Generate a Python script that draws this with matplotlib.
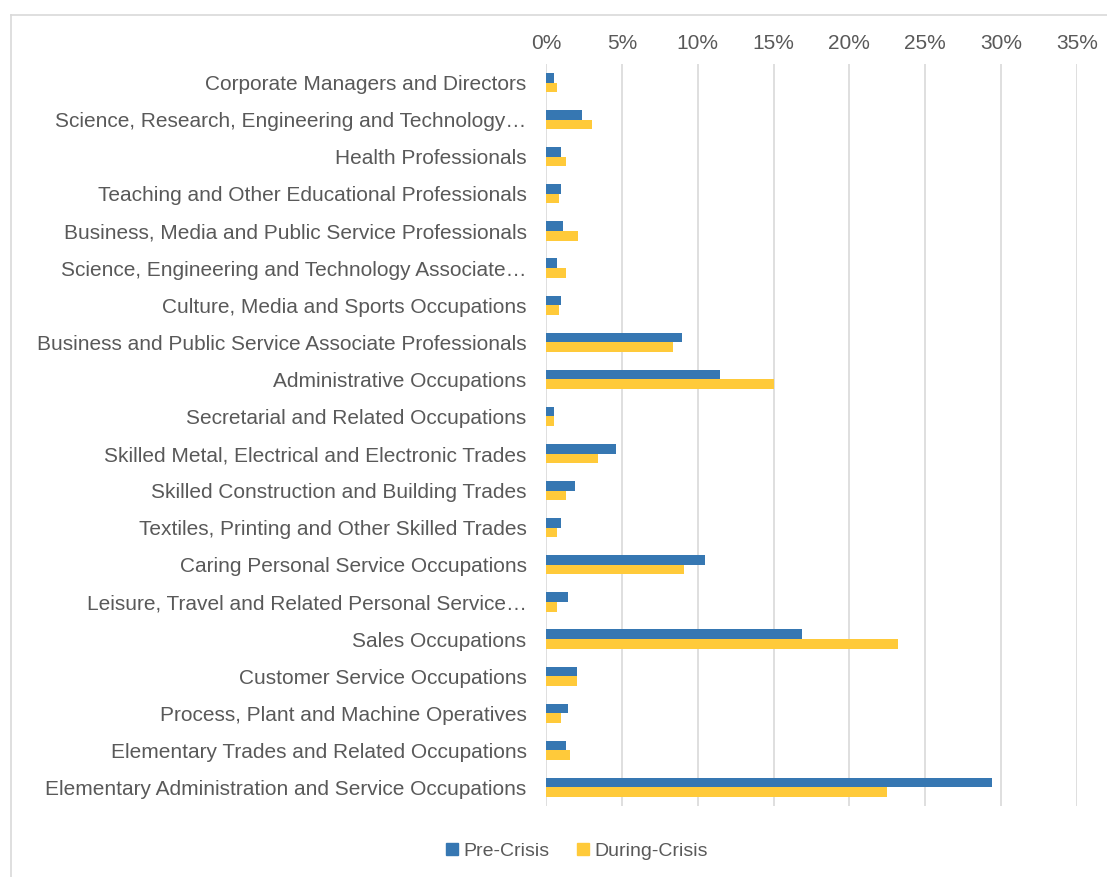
import matplotlib.pyplot as plt
import numpy as np
from matplotlib.lines import Line2D
from matplotlib.ticker import PercentFormatter

# occupation groups, top to bottom
categories = [
    "Corporate Managers and Directors",
    "Science, Research, Engineering and Technology\u2026",
    "Health Professionals",
    "Teaching and Other Educational Professionals",
    "Business, Media and Public Service Professionals",
    "Science, Engineering and Technology Associate\u2026",
    "Culture, Media and Sports Occupations",
    "Business and Public Service Associate Professionals",
    "Administrative Occupations",
    "Secretarial and Related Occupations",
    "Skilled Metal, Electrical and Electronic Trades",
    "Skilled Construction and Building Trades",
    "Textiles, Printing and Other Skilled Trades",
    "Caring Personal Service Occupations",
    "Leisure, Travel and Related Personal Service\u2026",
    "Sales Occupations",
    "Customer Service Occupations",
    "Process, Plant and Machine Operatives",
    "Elementary Trades and Related Occupations",
    "Elementary Administration and Service Occupations",
]

# share of vacancies, in %
pre_crisis = [0.5, 2.4, 1.0, 1.0, 1.1, 0.7, 1.0, 8.95, 11.45, 0.5,
              4.6, 1.9, 1.0, 10.5, 1.45, 16.9, 2.05, 1.45, 1.3, 29.4]
during_crisis = [0.7, 3.0, 1.3, 0.85, 2.1, 1.3, 0.85, 8.35, 15.0, 0.5,
                 3.45, 1.3, 0.7, 9.1, 0.7, 23.2, 2.05, 1.0, 1.6, 22.5]

series_names = ["Pre-Crisis", "During-Crisis"]
colors = ["#3677B2", "#FFCA3A"]
text_color = "#595959"

plt.rcParams['font.family'] = ['Liberation Sans', 'DejaVu Sans']

fig = plt.figure(figsize=(11.07, 8.77), dpi=100)
W, H = 1107, 877
ax = fig.add_axes([546 / W, 1 - 806 / H, (1077 - 546) / W, (806 - 64) / H])

y = np.arange(len(categories))
h = 0.26
ax.barh(y - h / 2, pre_crisis, height=h, color=colors[0], label=series_names[0], zorder=3)
ax.barh(y + h / 2, during_crisis, height=h, color=colors[1], label=series_names[1], zorder=3)

ax.set_ylim(len(categories) - 0.5, -0.5)
ax.set_xlim(0, 35)
ax.set_xticks(np.arange(0, 36, 5))
ax.xaxis.set_major_formatter(PercentFormatter(decimals=0))
ax.xaxis.tick_top()
ax.set_yticks(y)
ax.set_yticklabels(categories)
ax.tick_params(axis='both', length=0, colors=text_color, labelsize=15)
ax.tick_params(axis='y', pad=14)
ax.tick_params(axis='x', pad=8)
ax.grid(axis='x', color='#D9D9D9', linewidth=1.2, zorder=0)
for s in ax.spines.values():
    s.set_visible(False)

# legend below the plot
handles = [Line2D([], [], marker='s', linestyle='none', markersize=8, color=c) for c in colors]
fig.legend(handles, series_names, loc='center', bbox_to_anchor=(570 / W, 1 - 851 / H),
           ncol=2, frameon=False, fontsize=14, labelcolor=text_color,
           handletextpad=-0.4, columnspacing=0.7)

# chart area border (only top and left edges show)
fig.add_artist(Line2D([11 / W, 11 / W], [0, 1 - 15 / H], color='#D9D9D9', lw=1.2))
fig.add_artist(Line2D([11 / W, 1], [1 - 15 / H, 1 - 15 / H], color='#D9D9D9', lw=1.2))

fig.savefig("out.png", dpi=100)
